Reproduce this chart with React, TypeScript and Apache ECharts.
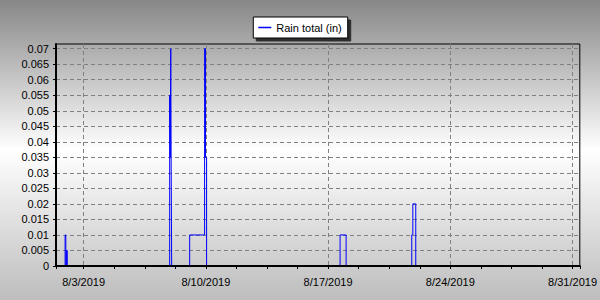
import React, { useEffect, useRef } from 'react';
import * as echarts from 'echarts';

// ---- data ----
const seriesName = 'Rain total (in)';
const rainTimes = [
  '2019-08-01T10:00',
  '2019-08-01T22:30',
  '2019-08-01T23:30',
  '2019-08-02T00:30',
  '2019-08-02T01:30',
  '2019-08-07T22:15',
  '2019-08-07T23:00',
  '2019-08-07T23:45',
  '2019-08-08T00:15',
  '2019-08-08T01:00',
  '2019-08-09T01:45',
  '2019-08-09T22:15',
  '2019-08-09T23:30',
  '2019-08-10T01:00',
  '2019-08-17T16:30',
  '2019-08-18T00:45',
  '2019-08-21T19:00',
  '2019-08-21T20:30',
  '2019-08-22T00:30',
  '2019-08-31T10:00',
];
const rainValues = [
  0, 0.01, 0, 0.005, 0,
  0.055, 0.035, 0.07, 0.035, 0,
  0.01, 0.07, 0.035, 0,
  0.01, 0,
  0.01, 0.02, 0,
  0,
];
const xTickLabels = ['8/3/2019', '8/10/2019', '8/17/2019', '8/24/2019', '8/31/2019'];
const xAnchor = '2019-08-03T00:00';
const xStart = '2019-08-01T10:00';
const xEnd = '2019-08-31T10:00';
const xMajorDays = 7;
const xMinorDays = 1.75;
const yMin = 0;
const yMax = 0.0715;
const yStep = 0.005;

const dayOf = (s: string) =>
  (Date.parse(s + ':00Z') - Date.parse(xAnchor + ':00Z')) / 86400000;

const FONT = '"Liberation Sans", Arial, sans-serif';
const BLUE = '#0000ff';

export default function App() {
  const ref = useRef<HTMLDivElement>(null);
  useEffect(() => {
    if (!ref.current) return;
    const chart = echarts.init(ref.current, null, { renderer: 'svg' });
    const xMin = dayOf(xStart);
    const xMax = dayOf(xEnd);
    const data = rainTimes.map((t, i) => [dayOf(t), rainValues[i]]);
    const xFormatter = (v: number) => {
      const k = Math.round(v / xMajorDays);
      if (Math.abs(v - k * xMajorDays) > 1e-6) return '';
      return xTickLabels[k] ?? '';
    };
    const yFormatter = (v: number) => {
      const k = Math.round(v / yStep);
      if (Math.abs(v - k * yStep) > 1e-9) return '';
      return String(+(k * yStep).toFixed(4));
    };
    chart.setOption({
      animation: false,
      backgroundColor: {
        type: 'linear', x: 0, y: 0, x2: 0, y2: 1,
        colorStops: [
          { offset: 0, color: '#878787' },
          { offset: 0.5, color: '#ffffff' },
          { offset: 1, color: '#bdbdbd' },
        ],
      },
      textStyle: { fontFamily: FONT },
      legend: {
        top: 17,
        left: 'center',
        data: [{ name: seriesName, icon: 'rect', itemStyle: { color: BLUE } }],
        backgroundColor: '#ffffff',
        borderColor: '#000000',
        borderWidth: 1,
        borderRadius: 0,
        padding: [4, 6, 4, 5],
        itemWidth: 13,
        itemHeight: 1.5,
        shadowColor: 'rgba(0,0,0,0.72)',
        shadowBlur: 0,
        shadowOffsetX: 3,
        shadowOffsetY: 3,
        textStyle: { color: '#000', fontSize: 11, fontFamily: FONT, lineHeight: 13 },
      },
      grid: {
        left: 56, right: 18, top: 44, bottom: 34,
        show: true, borderColor: '#000', borderWidth: 1,
        backgroundColor: 'transparent',
      },
      xAxis: [
        {
          type: 'value', position: 'bottom', min: xMin, max: xMax,
          minInterval: xMajorDays, maxInterval: xMajorDays,
          axisLine: { show: false, onZero: false },
          axisTick: { show: true, length: 3, lineStyle: { color: '#000' } },
          axisLabel: {
            show: true, color: '#000', fontSize: 11, fontFamily: FONT, margin: 10,
            showMinLabel: false, showMaxLabel: false, formatter: xFormatter,
          },
          splitLine: {
            show: true, showMinLine: false, showMaxLine: false,
            lineStyle: { color: '#808080', width: 1, type: [4, 3] },
          },
        },
        {
          type: 'value', position: 'bottom', min: xMin, max: xMax,
          minInterval: xMinorDays, maxInterval: xMinorDays,
          z: 5,
          axisLine: { show: true, onZero: false, lineStyle: { color: '#000', width: 2 } },
          axisTick: { show: true, length: 3, lineStyle: { color: '#000' } },
          axisLabel: { show: false },
          splitLine: { show: false },
        },
      ],
      yAxis: {
        type: 'value', min: yMin, max: yMax, interval: yStep,
        axisLine: { show: true, onZero: false, lineStyle: { color: '#000', width: 2 } },
        axisTick: { show: true, length: 3, lineStyle: { color: '#000' } },
        axisLabel: {
          color: '#000', fontSize: 11, fontFamily: FONT, margin: 7,
          showMaxLabel: false, formatter: yFormatter,
        },
        splitLine: {
          show: true, showMinLine: false, showMaxLine: false,
          lineStyle: { color: '#808080', width: 1, type: [4, 3] },
        },
      },
      series: [
        {
          type: 'line',
          name: seriesName,
          xAxisIndex: 0,
          data,
          step: 'end',
          symbol: 'none',
          showSymbol: false,
          z: 2,
          lineStyle: { color: BLUE, width: 1 },
          itemStyle: { color: BLUE },
        },
      ],
    });
    return () => chart.dispose();
  }, []);
  return (
    <div
      ref={ref}
      style={{ position: 'fixed', left: 0, top: 0, width: 600, height: 300 }}
    />
  );
}
